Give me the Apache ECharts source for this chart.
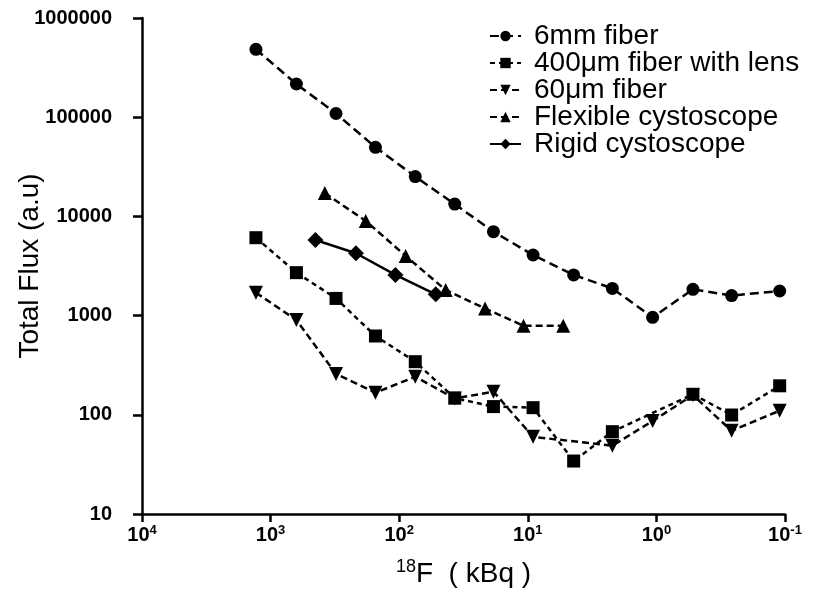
<!DOCTYPE html>
<html>
<head>
<meta charset="utf-8">
<script src="https://cdn.jsdelivr.net/npm/echarts@6/dist/echarts.min.js"></script>
<style>
  html, body { margin: 0; padding: 0; background: #fff; }
  #chart { width: 815px; height: 598px; }
</style>
</head>
<body>
<div id="chart"></div>
<script>
var chart = echarts.init(document.getElementById('chart'))

// activity (kBq) and total flux (a.u)
var fiber6mmX = [1300, 630, 310, 153, 75, 37, 18.5, 9.1, 4.4, 2.2, 1.07, 0.52, 0.26, 0.11]
var fiber6mmY = [483000, 216000, 109000, 49700, 25200, 13300, 7010, 4080, 2570, 1880, 961, 1840, 1590, 1770]

var lensX = [1300, 630, 310, 153, 75, 37, 18.5, 9.1, 4.4, 2.2, 0.52, 0.26, 0.11]
var lensY = [6100, 2710, 1490, 623, 343, 147, 121, 118, 34.2, 67.6, 161, 99.5, 196]

var fiber60X = [1300, 630, 310, 153, 75, 37, 18.5, 9.1, 2.2, 1.07, 0.52, 0.26, 0.11]
var fiber60Y = [1700, 903, 258, 167, 242, 146, 171, 60, 48.8, 86.6, 158, 69, 110]

var flexX = [379, 182, 89, 43.5, 21.5, 10.8, 5.3]
var flexY = [17200, 9000, 3990, 1810, 1180, 791, 791]

var rigidX = [448, 217, 107, 52]
var rigidY = [5780, 4250, 2570, 1640]

var names = ['6mm fiber', '400\u03bcm fiber with lens', '60\u03bcm fiber', 'Flexible cystoscope', 'Rigid cystoscope']

function pairs(xs, ys) {
    return xs.map(function(x, i) { return [x, ys[i]] })
}

var font = '"Liberation Sans", Arial, sans-serif'

function lineSeries(name, xs, ys, symbol, size, dash, rotate) {
    return {
        name: name,
        type: 'line',
        data: pairs(xs, ys),
        symbol: symbol,
        symbolSize: size,
        symbolRotate: rotate || 0,
        itemStyle: { color: '#000' },
        lineStyle: { color: '#000', width: 2.5, type: dash },
        emphasis: { disabled: true },
        animation: false
    }
}

chart.setOption({
    backgroundColor: '#fff',
    textStyle: { fontFamily: font },
    grid: { left: 142, right: 30, top: 18, bottom: 84, containLabel: false, outerBoundsMode: 'none' },
    legend: {
        orient: 'vertical',
        left: 484,
        top: 17,
        itemWidth: 31,
        itemHeight: 13,
        itemGap: -1,
        textStyle: { fontFamily: font, fontSize: 28, lineHeight: 26, color: '#000', padding: [0, 0, 0, 8] },
        data: names
    },
    xAxis: {
        type: 'log',
        logBase: 10,
        min: 0.1,
        max: 10000,
        inverse: true,
        name: '{s|18}F  ( kBq )',
        nameLocation: 'middle',
        nameGap: 44,
        nameMoveOverlap: false,
        nameTextStyle: {
            fontFamily: font, fontSize: 28, color: '#000',
            rich: {
                s: { fontFamily: font, fontSize: 18, color: '#000', padding: [0, 0, 14, 0] }
            }
        },
        splitLine: { show: false },
        axisLine: { lineStyle: { color: '#000', width: 2.5 } },
        axisTick: { inside: false, length: 8, lineStyle: { color: '#000', width: 2.5 } },
        minorTick: { show: false },
        axisLabel: {
            margin: 10,
            formatter: function(v) {
                var e = Math.round(Math.log(v) / Math.LN10)
                return '{b|10}{e|' + e + '}'
            },
            rich: {
                b: { fontFamily: font, fontSize: 20, fontWeight: 'bold', color: '#000' },
                e: { fontFamily: font, fontSize: 13, fontWeight: 'bold', color: '#000', padding: [0, 0, 10, 0] }
            }
        }
    },
    yAxis: {
        type: 'log',
        logBase: 10,
        min: 10,
        max: 1000000,
        name: 'Total Flux (a.u)',
        nameLocation: 'middle',
        nameGap: 98,
        nameMoveOverlap: false,
        nameTextStyle: { fontFamily: font, fontSize: 28, color: '#000' },
        splitLine: { show: false },
        axisLine: { lineStyle: { color: '#000', width: 2.5 } },
        axisTick: { inside: false, length: 9, lineStyle: { color: '#000', width: 2.5 } },
        axisLabel: {
            margin: 30,
            fontFamily: font,
            fontSize: 20,
            fontWeight: 'bold',
            color: '#000',
            formatter: function(v) { return String(Math.round(v)) }
        }
    },
    series: [
        lineSeries(names[0], fiber6mmX, fiber6mmY, 'circle', 13, [9, 5]),
        lineSeries(names[1], lensX, lensY, 'rect', 13, [5, 4]),
        lineSeries(names[2], fiber60X, fiber60Y, 'triangle', 14, [7, 4], 180),
        lineSeries(names[3], flexX, flexY, 'triangle', 14, [7, 4]),
        lineSeries(names[4], rigidX, rigidY, 'diamond', 16, 'solid')
    ]
})
</script>
</body>
</html>
